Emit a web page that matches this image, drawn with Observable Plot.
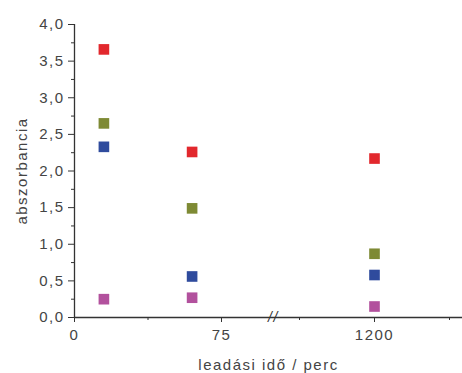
<!DOCTYPE html>
<html><head><meta charset="utf-8">
<script src="https://cdn.jsdelivr.net/npm/d3@7"></script>
<script src="https://cdn.jsdelivr.net/npm/@observablehq/plot@0.6"></script>
<style>
body{margin:0;background:#fff;}
#chart svg{display:block;}
</style>
</head><body><div id="chart"></div>
<script>
// time points (perc)
const times = [15, 60, 1200];
// absorbance series
const seriesNames = ["A", "B", "C", "D"];
const redValues   = [3.66, 2.26, 2.17];
const oliveValues = [2.65, 1.49, 0.87];
const blueValues  = [2.33, 0.56, 0.58];
const pinkValues  = [0.25, 0.27, 0.15];
const seriesColors = ["#e2282d", "#7e8a34", "#2f4b9d", "#b2519d"];
// axis ticks
const xTicks = [0, 75, 1200];
const xTickLabels = ["0", "75", "1200"];
const xMinorTicks = [37.5, 1050, 1350];
const yTicks = [0, 0.5, 1, 1.5, 2, 2.5, 3, 3.5, 4];
const yTickLabels = ["0,0", "0,5", "1,0", "1,5", "2,0", "2,5", "3,0", "3,5", "4,0"];
const yMinorTicks = [0.25, 0.75, 1.25, 1.75, 2.25, 2.75, 3.25, 3.75];
// broken x axis
const xSegments = [0, 100, 1000, 1400];
const xBreak = [100];

const allSeries = [redValues, oliveValues, blueValues, pinkValues];
const data = [];
allSeries.forEach((vals, s) => vals.forEach((v, i) => data.push({t: times[i], v, s: seriesNames[s]})));

const W = 462, H = 373, mL = 74, mT = 24, mB = 56;
const chart = Plot.plot({
  width: W, height: H,
  marginLeft: mL, marginRight: 0, marginTop: mT, marginBottom: mB,
  style: {fontFamily: "'Liberation Sans', Arial, sans-serif", color: "#444", background: "#fff"},
  x: {type: "linear", domain: xSegments, range: [mL, 270, 274, 474]},
  y: {domain: [0, 4]},
  color: {domain: seriesNames, range: seriesColors},
  marks: [
    Plot.ruleY([0], {stroke: "#333", strokeWidth: 1.3}),
    Plot.ruleX([0], {stroke: "#333", strokeWidth: 1.3}),
    Plot.axisY(yTicks, {tickSize: 6, tickPadding: 4, fontSize: 15,
      tickFormat: d => yTickLabels[yTicks.indexOf(d)], stroke: "#333",
      label: "abszorbancia", labelAnchor: "center", labelOffset: 58, labelArrow: "none"}),
    Plot.axisY(yMinorTicks, {tickSize: 3, tickFormat: () => "", label: null, stroke: "#333"}),
    Plot.axisX(xTicks, {tickSize: 5, tickPadding: 7, fontSize: 15,
      tickFormat: d => xTickLabels[xTicks.indexOf(d)], stroke: "#333",
      label: "leadási idő / perc", labelAnchor: "center", labelOffset: 52, labelArrow: "none"}),
    Plot.axisX(xMinorTicks, {tickSize: 3, tickFormat: () => "", label: null, stroke: "#333"}),
    Plot.text(xBreak, {x: d => d, y: () => 0, text: () => "//", fontSize: 14, fontStyle: "italic", fill: "#333", dx: 3}),
    Plot.dot(data, {x: "t", y: "v", fill: "s", symbol: "square", r: 6})
  ]
});
chart.querySelectorAll("text").forEach(t => t.style.letterSpacing = "1.5px");
document.getElementById("chart").appendChild(chart);
</script>
</body></html>
